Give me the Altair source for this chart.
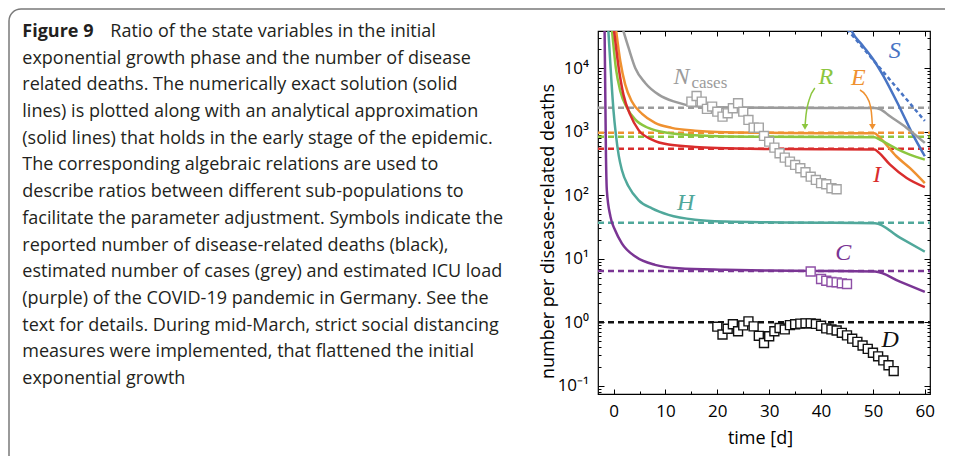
import altair as alt
import pandas as pd

SANS = "Open Sans"
SERIF = "Liberation Serif"

# ---------------- axis ranges ----------------
T_DOMAIN = [-3, 61]
V_DOMAIN = [0.074, 38600]
X_TICKS = list(range(0, 61, 5))
Y_MAJOR = [0.1, 1, 10, 100, 1000, 10000]
Y_TICKS = [0.08, 0.09] + [round(m * 10 ** e, 6) for e in range(-1, 5) for m in range(1, 10)
                          if m * 10 ** e <= 38600]

# ---------------- numerically exact solution (solid lines) ----------------
S_t = [45.7, 45.9, 48.0, 50.0, 52.0, 55.2, 57.7, 60.0]
S_v = [42000, 38600, 22900, 14000, 7600, 2370, 900, 411]

N_t = [1.2, 1.9, 2.9, 4.2, 6.1, 8.7, 11.9, 15.7, 20, 30, 40, 50.3, 51.3, 53.3, 56.5, 60]
N_v = [60000, 38600, 20900, 10000, 5870, 3840, 2950, 2510, 2420, 2380, 2375, 2370, 2280, 1750, 1150, 667]

E_t = [0.2, 0.5, 1.3, 2.25, 3.5, 5.5, 8.0, 11.2, 15.7, 20, 30, 40, 50.3, 51.3, 54.5, 57.1, 60]
E_v = [60000, 38600, 12900, 5520, 3020, 1910, 1380, 1150, 1040, 990, 960, 950, 945, 810, 411, 269, 155]

R_t = [-0.55, -0.3, 0.45, 1.3, 2.6, 4.2, 6.7, 10.6, 15.7, 20, 30, 40, 50.3, 51.3, 54.5, 57.1, 60]
R_v = [60000, 38600, 10000, 4340, 2370, 1550, 1150, 955, 880, 850, 830, 825, 820, 751, 542, 436, 364]

I_t = [-0.2, 0.1, 1.0, 1.9, 3.2, 4.8, 7.4, 10.6, 15.7, 20, 30, 40, 50.3, 51.0, 53.3, 56.5, 60]
I_v = [60000, 38600, 10000, 3840, 1860, 1070, 751, 627, 577, 555, 535, 530, 525, 481, 303, 187, 134]

H_t = [-1.15, -1.0, -0.45, 0.0, 0.45, 1.0, 1.6, 2.9, 4.8, 7.4, 10.6, 15.7, 21.5, 30, 40, 50.4, 55.2, 60]
H_v = [60000, 38600, 7030, 2100, 900, 420, 250, 137, 84, 62, 49, 41, 38.4, 37.4, 37.0, 36.2, 21.5, 12.9]

C_t = [-1.75, -1.73, -1.46, -1.3, -0.6, 0.3, 1.6, 4.2, 8.0, 12.5, 21.5, 30, 40, 50.4, 55.2, 60]
C_v = [60000, 38600, 388, 121, 46, 28, 17.5, 10.8, 8.0, 7.1, 6.7, 6.5, 6.4, 6.3, 4.36, 3.0]

# ---------------- analytical approximation (dashed lines) ----------------
S_dash_t = [45.0, 60.0]
S_dash_v = [41400, 1480]
LEVEL_keys = ["N", "E", "R", "I", "H", "C", "D"]
LEVEL_vals = [2380, 965, 835, 540, 37.0, 6.4, 1.0]

# ---------------- reported data (squares) ----------------
Nobs_t = list(range(15, 44))
Nobs_v = [2980, 3660, 2980, 2290, 2490, 2070, 1730, 1950, 2345, 2810, 2070, 1535, 1160, 1160,
          859, 698, 562, 458, 391, 338, 300, 266, 230, 196, 174, 155, 149, 129, 124]
Cobs_t = [38, 40, 41, 42, 43, 44, 45]
Cobs_v = [6.3, 4.8, 4.5, 4.3, 4.25, 4.1, 4.0]
Dobs_t = list(range(20, 55))
Dobs_v = [0.85, 0.64, 0.79, 0.93, 0.72, 0.89, 1.03, 0.86, 0.61, 0.47, 0.60, 0.72, 0.81, 0.77,
          0.90, 0.93, 0.95, 0.96, 0.96, 0.94, 0.88, 0.80, 0.77, 0.74, 0.68, 0.62, 0.55, 0.49,
          0.43, 0.38, 0.33, 0.29, 0.25, 0.21, 0.17]

# ---------------- annotations ----------------
LBL_text = ["S", "R", "E", "I", "H", "C", "D", "N"]
LBL_key = ["S", "R", "E", "I", "H", "C", "D", "N"]
LBL_t = [54.2, 40.9, 47.2, 50.8, 13.9, 44.3, 53.3, 13.1]
LBL_v = [18500, 7210, 7030, 211, 74.8, 12.2, 0.526, 7300]
SUB_text = ["cases"]
SUB_t = [15.0]
SUB_v = [5870]

ARR_R_t = [38.8, 37.7, 37.1, 36.9]
ARR_R_v = [4900, 3170, 1840, 1190]
ARR_E_t = [47.5, 48.7, 49.5, 49.8, 49.9]
ARR_E_v = [4540, 3660, 2550, 1650, 1190]

CAPTION_BOLD = "Figure 9"
CAPTION_LINES = [
    "Ratio of the state variables in the initial",
    "exponential growth phase and the number of disease",
    "related deaths. The numerically exact solution (solid",
    "lines) is plotted along with an analytical approximation",
    "(solid lines) that holds in the early stage of the epidemic.",
    "The corresponding algebraic relations are used to",
    "describe ratios between different sub-populations to",
    "facilitate the parameter adjustment. Symbols indicate the",
    "reported number of disease-related deaths (black),",
    "estimated number of cases (grey) and estimated ICU load",
    "(purple) of the COVID-19 pandemic in Germany. See the",
    "text for details. During mid-March, strict social distancing",
    "measures were implemented, that flattened the initial",
    "exponential growth",
]

COLORS = {"S": "#4874c4", "N": "#9b9b9b", "E": "#ef9130", "R": "#8cc63f", "I": "#d92d2d",
          "H": "#50a89b", "C": "#7a3594", "D": "#111111"}
OBS_COLORS = {"N": "#a3a3a3", "C": "#8e4fa6", "D": "#111111"}


def frame(t, v, key, colors=COLORS):
    d = pd.DataFrame({"t": t, "v": v})
    d["s"] = key
    d["col"] = colors[key]
    return d


solid = pd.concat([frame(S_t, S_v, "S"), frame(N_t, N_v, "N"), frame(E_t, E_v, "E"),
                   frame(R_t, R_v, "R"), frame(I_t, I_v, "I"), frame(H_t, H_v, "H"),
                   frame(C_t, C_v, "C")], ignore_index=True)
levels = pd.concat([frame(T_DOMAIN, [lv, lv], k) for k, lv in zip(LEVEL_keys, LEVEL_vals)],
                   ignore_index=True)
sdash = frame(S_dash_t, S_dash_v, "S")
obs = pd.concat([frame(Nobs_t, Nobs_v, "N", OBS_COLORS), frame(Cobs_t, Cobs_v, "C", OBS_COLORS),
                 frame(Dobs_t, Dobs_v, "D", OBS_COLORS)], ignore_index=True)
arrows = pd.concat([frame(ARR_R_t, ARR_R_v, "R"), frame(ARR_E_t, ARR_E_v, "E")], ignore_index=True)
heads = pd.DataFrame({"t": [ARR_R_t[-1], ARR_E_t[-1]], "v": [ARR_R_v[-1], ARR_E_v[-1]],
                      "col": [COLORS["R"], COLORS["E"]]})
labels = pd.DataFrame({"t": LBL_t, "v": LBL_v, "txt": LBL_text,
                       "col": [COLORS[k] for k in LBL_key]})
sub = pd.DataFrame({"t": SUB_t, "v": SUB_v, "txt": SUB_text, "col": [COLORS["N"]]})
one = pd.DataFrame({"a": [0]})

xs = alt.Scale(domain=T_DOMAIN, nice=False, zero=False)
ys = alt.Scale(type="log", domain=V_DOMAIN, nice=False)

X_TICK_EXPR = {"expr": "datum.value % 10 == 0 ? -5 : -3"}
Y_TICK_EXPR = {"expr": "indexof([0.1, 1, 10, 100, 1000, 10000], datum.value) >= 0 ? -6 : -3"}
Y_LABEL_EXPR = ("datum.value == 0.1 ? '10⁻¹' : datum.value == 1 ? '10⁰' : datum.value == 10 ? '10¹' : "
                "datum.value == 100 ? '10²' : datum.value == 1000 ? '10³' : "
                "datum.value == 10000 ? '10⁴' : ''")

common = dict(domain=False, grid=False, tickColor="black", tickWidth=1, labelColor="black",
              labelFont=SANS, labelFontSize=17, titleFont=SANS, titleFontSize=18,
              titleFontWeight="normal", titleColor="black", labelOverlap=False, labelFlush=False)

ax_bottom = alt.Axis(orient="bottom", values=X_TICKS, tickSize=X_TICK_EXPR,
                     labelExpr="datum.value % 10 == 0 ? datum.label : ''", labelPadding=14,
                     title="time [d]", titleX=162, titleY=44, titleBaseline="middle", **common)
ax_top = alt.Axis(orient="top", values=X_TICKS, tickSize=X_TICK_EXPR, labels=False, title=None,
                  domain=False, grid=False, tickColor="black", tickWidth=1)
ax_left = alt.Axis(orient="left", values=Y_TICKS, tickSize=Y_TICK_EXPR, labelExpr=Y_LABEL_EXPR,
                   labelPadding=15.5, title="number per disease-related deaths",
                   titleX=-50, titleY=200, titleBaseline="middle", **common)
ax_right = alt.Axis(orient="right", values=Y_TICKS, tickSize=Y_TICK_EXPR, labels=False, title=None,
                    domain=False, grid=False, tickColor="black", tickWidth=1)


def xenc(axis=None):
    return alt.X("t:Q", scale=xs, axis=axis)


def yenc(axis=None):
    return alt.Y("v:Q", scale=ys, axis=axis)


colenc = alt.Color("col:N", scale=None)

border = alt.Chart(one).mark_rect(fillOpacity=0, stroke="#7a7a7a", strokeWidth=1.5,
                                  cornerRadius=12).encode(
    x=alt.value(-589), x2=alt.value(900), y=alt.value(-22), y2=alt.value(900))

level_chart = alt.Chart(levels).mark_line(strokeDash=[6, 4], strokeWidth=2.5, clip=True).encode(
    x=xenc(ax_bottom), y=yenc(ax_left), color=colenc, detail="s:N")

sdash_chart = alt.Chart(sdash).mark_line(strokeDash=[4, 3], strokeWidth=2.5, clip=True).encode(
    x=xenc(), y=yenc(), color=colenc)

solid_chart = alt.Chart(solid).mark_line(strokeWidth=2.5, clip=True, interpolate="monotone").encode(
    x=xenc(ax_top), y=yenc(ax_right), color=colenc, detail="s:N")

arrow_chart = alt.Chart(arrows).mark_line(strokeWidth=1.5, interpolate="monotone").encode(
    x=xenc(), y=yenc(), color=colenc, detail="s:N")

head_chart = alt.Chart(heads).mark_point(shape="triangle-down", filled=True, size=45, opacity=1).encode(
    x=xenc(), y=yenc(), color=colenc)

obs_chart = alt.Chart(obs).mark_square(size=80, fill="white", fillOpacity=1, strokeWidth=1.4,
                                       opacity=1, clip=True).encode(
    x=xenc(), y=yenc(), stroke=alt.Stroke("col:N", scale=None), detail="s:N")

label_chart = alt.Chart(labels).mark_text(font=SERIF, fontStyle="italic", fontSize=24,
                                          baseline="middle").encode(
    x=xenc(), y=yenc(), text="txt:N", color=colenc)

sub_chart = alt.Chart(sub).mark_text(font=SERIF, fontSize=17, align="left", baseline="middle").encode(
    x=xenc(), y=yenc(), text="txt:N", color=colenc)

CAP_SIZE = 18
CAP_Y = -8.0
cap_bold = alt.Chart(one).mark_text(text=CAPTION_BOLD, font=SANS, fontSize=CAP_SIZE, fontWeight="bold",
                                    align="left", baseline="top", color="#231f20").encode(
    x=alt.value(-575.7), y=alt.value(CAP_Y))
cap_first = alt.Chart(one).mark_text(text=CAPTION_LINES[0], font=SANS, fontSize=CAP_SIZE,
                                     align="left", baseline="top", color="#231f20").encode(
    x=alt.value(-487.7), y=alt.value(CAP_Y))
cap_rest = alt.Chart(one).mark_text(text=CAPTION_LINES[1:], font=SANS, fontSize=CAP_SIZE,
                                    lineHeight=26.7, align="left", baseline="top",
                                    color="#231f20").encode(
    x=alt.value(-575.7), y=alt.value(CAP_Y + 26.7))

chart = alt.layer(
    border, level_chart, sdash_chart, solid_chart, arrow_chart, head_chart, obs_chart,
    label_chart, sub_chart, cap_bold, cap_first, cap_rest,
).resolve_axis(x="independent", y="independent").properties(
    width=332, height=363,
    autosize=alt.AutoSizeParams(type="none"),
    padding={"left": 590, "top": 23, "right": 15, "bottom": 62},
    background="white",
).configure_view(stroke="black", strokeWidth=1.2)

chart.save("out.html", embed_options={"renderer": "svg", "actions": False})
